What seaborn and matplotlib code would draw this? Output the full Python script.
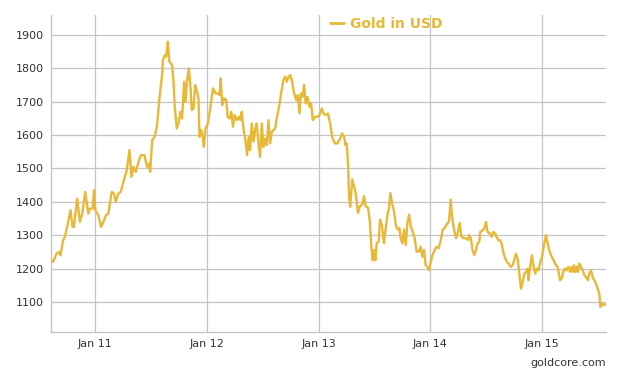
import matplotlib
matplotlib.use("Agg")
import matplotlib.pyplot as plt
import matplotlib.dates as mdates
import numpy as np
import pandas as pd
import seaborn as sns

# ---- data (decimal years, USD/oz) ----
t_2010_11 = [2010.607, 2010.622, 2010.652, 2010.676, 2010.688, 2010.712, 2010.727, 2010.757, 2010.778, 2010.796,
             2010.808, 2010.838, 2010.862, 2010.883, 2010.910, 2010.937, 2010.952, 2010.976, 2010.988, 2011.000,
             2011.027, 2011.051, 2011.072, 2011.096, 2011.117, 2011.147, 2011.168, 2011.183, 2011.207, 2011.228,
             2011.252, 2011.282, 2011.306, 2011.324, 2011.342, 2011.363, 2011.387, 2011.408, 2011.441, 2011.462,
             2011.480, 2011.492]
v_2010_11 = [1225, 1220, 1245, 1250, 1240, 1285, 1295, 1340, 1375, 1325,
             1325, 1410, 1340, 1365, 1430, 1365, 1380, 1380, 1435, 1375,
             1360, 1325, 1340, 1360, 1365, 1430, 1425, 1400, 1425, 1430,
             1460, 1495, 1555, 1475, 1505, 1490, 1520, 1540, 1540, 1505,
             1515, 1490]

t_2011_12 = [2011.510, 2011.531, 2011.552, 2011.576, 2011.600, 2011.606, 2011.624, 2011.636, 2011.649, 2011.664,
             2011.688, 2011.700, 2011.712, 2011.730, 2011.748, 2011.763, 2011.778, 2011.796, 2011.808, 2011.823,
             2011.838, 2011.853, 2011.865, 2011.880, 2011.895, 2011.913, 2011.925, 2011.934, 2011.949, 2011.964,
             2011.973, 2011.988, 2012.009, 2012.030, 2012.054, 2012.078, 2012.099, 2012.114, 2012.123, 2012.138,
             2012.156, 2012.174, 2012.186, 2012.204, 2012.219, 2012.234, 2012.249, 2012.270, 2012.288, 2012.300,
             2012.312, 2012.330, 2012.345, 2012.360, 2012.375]
v_2011_12 = [1585, 1595, 1625, 1715, 1785, 1825, 1840, 1835, 1880, 1820,
             1810, 1765, 1685, 1620, 1640, 1670, 1650, 1760, 1700, 1765,
             1800, 1745, 1675, 1680, 1750, 1730, 1710, 1595, 1615, 1595,
             1565, 1620, 1635, 1680, 1740, 1725, 1725, 1720, 1770, 1690,
             1710, 1705, 1655, 1650, 1670, 1625, 1660, 1645, 1655, 1645,
             1670, 1615, 1585, 1540, 1595]

t_2012_13 = [2012.387, 2012.402, 2012.417, 2012.432, 2012.447, 2012.462, 2012.477, 2012.492, 2012.507, 2012.522,
             2012.537, 2012.552, 2012.567, 2012.582, 2012.597, 2012.612, 2012.626, 2012.647, 2012.665, 2012.686,
             2012.701, 2012.716, 2012.731, 2012.749, 2012.764, 2012.782, 2012.800, 2012.815, 2012.830, 2012.842,
             2012.857, 2012.871, 2012.886, 2012.901, 2012.919, 2012.934, 2012.949, 2012.970, 2012.991, 2013.009,
             2013.030, 2013.045, 2013.066, 2013.084, 2013.105, 2013.126, 2013.149, 2013.170, 2013.194, 2013.212,
             2013.230, 2013.242, 2013.254, 2013.266, 2013.275, 2013.284]
v_2012_13 = [1555, 1635, 1580, 1615, 1635, 1575, 1535, 1635, 1565, 1590,
             1570, 1645, 1575, 1610, 1615, 1620, 1650, 1685, 1725, 1765,
             1775, 1760, 1775, 1780, 1760, 1725, 1705, 1720, 1665, 1725,
             1715, 1750, 1695, 1715, 1685, 1695, 1645, 1655, 1655, 1660,
             1680, 1665, 1660, 1665, 1635, 1590, 1575, 1575, 1590, 1605,
             1595, 1570, 1575, 1505, 1415, 1385]

t_2013_14 = [2013.303, 2013.318, 2013.333, 2013.354, 2013.372, 2013.393, 2013.408, 2013.423, 2013.444, 2013.459,
             2013.474, 2013.486, 2013.498, 2013.510, 2013.522, 2013.540, 2013.552, 2013.570, 2013.587, 2013.605,
             2013.623, 2013.632, 2013.644, 2013.659, 2013.677, 2013.695, 2013.710, 2013.725, 2013.737, 2013.752,
             2013.767, 2013.782, 2013.797, 2013.812, 2013.827, 2013.845, 2013.862, 2013.880, 2013.901, 2013.916,
             2013.931, 2013.946, 2013.961, 2013.976, 2013.991, 2014.006, 2014.021, 2014.042, 2014.060, 2014.078,
             2014.096, 2014.114, 2014.132, 2014.149, 2014.170, 2014.185, 2014.197, 2014.215, 2014.233, 2014.251,
             2014.266, 2014.281, 2014.299, 2014.320, 2014.341]
v_2013_14 = [1467, 1447, 1427, 1367, 1387, 1392, 1417, 1387, 1382, 1347,
             1266, 1225, 1256, 1225, 1276, 1281, 1347, 1327, 1276, 1327,
             1372, 1377, 1427, 1397, 1372, 1327, 1317, 1322, 1291, 1276,
             1317, 1271, 1337, 1362, 1327, 1311, 1291, 1251, 1251, 1266,
             1235, 1256, 1210, 1205, 1195, 1220, 1240, 1256, 1266, 1261,
             1286, 1317, 1322, 1332, 1342, 1407, 1357, 1317, 1291, 1311,
             1337, 1296, 1291, 1291, 1286]

t_2014_15 = [2014.351, 2014.366, 2014.381, 2014.396, 2014.411, 2014.426, 2014.441, 2014.450, 2014.471, 2014.486,
             2014.501, 2014.516, 2014.537, 2014.552, 2014.567, 2014.584, 2014.596, 2014.614, 2014.629, 2014.641,
             2014.656, 2014.674, 2014.689, 2014.704, 2014.722, 2014.740, 2014.755, 2014.770, 2014.785, 2014.800,
             2014.815, 2014.830, 2014.845, 2014.860, 2014.874, 2014.883, 2014.898, 2014.913, 2014.928, 2014.943,
             2014.958, 2014.973, 2014.985, 2015.003, 2015.021, 2015.039, 2015.054, 2015.069, 2015.084, 2015.099,
             2015.114, 2015.129, 2015.143, 2015.152, 2015.164, 2015.179, 2015.194, 2015.209, 2015.224, 2015.239,
             2015.254, 2015.266, 2015.278, 2015.290, 2015.302, 2015.314, 2015.326, 2015.338, 2015.353, 2015.368,
             2015.383, 2015.398, 2015.413, 2015.428, 2015.442, 2015.457, 2015.472, 2015.487, 2015.502, 2015.517,
             2015.526, 2015.541, 2015.556, 2015.577]
v_2014_15 = [1300, 1290, 1255, 1240, 1255, 1275, 1280, 1310, 1315, 1320,
             1340, 1310, 1305, 1295, 1310, 1305, 1295, 1285, 1285, 1275,
             1250, 1230, 1220, 1215, 1205, 1210, 1225, 1245, 1230, 1185,
             1140, 1160, 1185, 1190, 1200, 1165, 1210, 1240, 1205, 1185,
             1200, 1195, 1215, 1235, 1270, 1300, 1275, 1255, 1240, 1230,
             1220, 1210, 1205, 1190, 1165, 1170, 1190, 1200, 1195, 1205,
             1190, 1205, 1190, 1210, 1190, 1205, 1190, 1215, 1205, 1195,
             1180, 1175, 1165, 1185, 1195, 1175, 1165, 1155, 1140, 1125,
             1085, 1095, 1090, 1095]

series_name = "Gold in USD"
y_ticks = [1100, 1200, 1300, 1400, 1500, 1600, 1700, 1800, 1900]
x_tick_years = [2011, 2012, 2013, 2014, 2015]
source_text = "goldcore.com"

# ---- build table ----
t_all = t_2010_11 + t_2011_12 + t_2012_13 + t_2013_14 + t_2014_15
v_all = v_2010_11 + v_2011_12 + v_2012_13 + v_2013_14 + v_2014_15
assert len(t_all) == len(v_all), (len(t_all), len(v_all))


def to_date(t):
    return pd.Timestamp("2010-01-01") + pd.to_timedelta((np.asarray(t) - 2010.0) * 365.25, unit="D")


df = pd.DataFrame({"date": to_date(t_all), "price": v_all, "series": series_name})

GOLD = "#E8B838"
GRID = "#c4c4c4"

sns.set_style("white")
plt.rcParams["font.family"] = ["DejaVu Sans"]

fig = plt.figure(figsize=(6.23, 3.74), dpi=100)
ax = fig.add_axes([51 / 623, 1 - 332 / 374, 555 / 623, 317 / 374])

sns.lineplot(data=df, x="date", y="price", hue="series", palette=[GOLD],
             linewidth=1.7, ax=ax, estimator=None, sort=False)

ax.set_xlim(to_date(2010.603), to_date(2015.577))
ax.set_ylim(1010, 1960)
ax.set_yticks(y_ticks)
ax.set_xticks([pd.Timestamp(f"{y}-01-01") for y in x_tick_years])
ax.xaxis.set_major_formatter(mdates.DateFormatter("%b %y"))

ax.grid(True, axis="both", color=GRID, linewidth=0.9)
ax.set_axisbelow(True)
ax.set_xlabel("")
ax.set_ylabel("")
ax.tick_params(length=0, pad=5, labelsize=8, colors="#333333")

for s in ["top", "right"]:
    ax.spines[s].set_visible(False)
for s in ["left", "bottom"]:
    ax.spines[s].set_color(GRID)
    ax.spines[s].set_linewidth(1.0)

leg = ax.legend(loc="center", bbox_to_anchor=(0.6045, 0.9716), frameon=False,
                handlelength=1.0, handletextpad=0.45,
                prop={"weight": "bold", "size": 10}, labelcolor=GOLD)
for line in leg.get_lines():
    line.set_linewidth(2.0)

fig.text(606 / 623, 1 - 363 / 374, source_text, ha="right", va="center",
         fontsize=8, color="#333333")

fig.savefig("out.png", dpi=100)
